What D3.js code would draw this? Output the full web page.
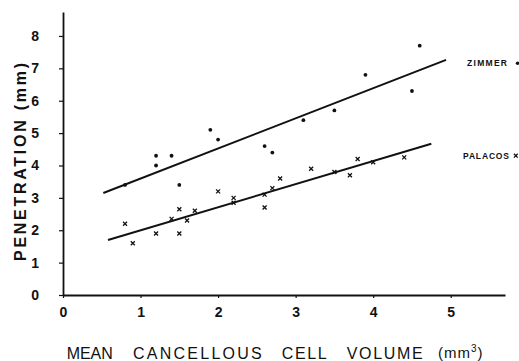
<!DOCTYPE html>
<html>
<head>
<meta charset="utf-8">
<script src="https://cdn.jsdelivr.net/npm/d3@7"></script>
<style>
  body { margin: 0; background: #fff; }
  svg { display: block; font-family: "Liberation Sans", Arial, sans-serif; }
</style>
</head>
<body>
<svg id="chart"></svg>
<script>
const width = 519;
const height = 361;

// Zimmer cement (dots)
const zimmerX = [0.8, 1.2, 1.2, 1.4, 1.5, 1.9, 2.0, 2.6, 2.7, 3.1, 3.5, 3.9, 4.5, 4.6];
const zimmerY = [3.4, 4.3, 4.0, 4.3, 3.4, 5.1, 4.8, 4.6, 4.4, 5.4, 5.7, 6.8, 6.3, 7.7];
// Palacos cement (crosses)
const palacosX = [0.8, 0.9, 1.2, 1.4, 1.5, 1.5, 1.6, 1.7, 2.0, 2.2, 2.2, 2.6, 2.6, 2.7, 2.8, 3.2, 3.5, 3.7, 3.8, 4.0, 4.4];
const palacosY = [2.2, 1.6, 1.9, 2.35, 2.65, 1.9, 2.3, 2.6, 3.2, 3.0, 2.85, 3.1, 2.7, 3.3, 3.6, 3.9, 3.8, 3.7, 4.2, 4.1, 4.25];
// fitted lines (end points)
const zimmerFitX = [0.52, 4.94];
const zimmerFitY = [3.15, 7.26];
const palacosFitX = [0.58, 4.75];
const palacosFitY = [1.70, 4.67];

const xTicks = [0, 1, 2, 3, 4, 5];
const yTicks = [0, 1, 2, 3, 4, 5, 6, 7, 8];
const xTitleWords = ["MEAN", "CANCELLOUS", "CELL", "VOLUME"];

const svg = d3.select("#chart").attr("width", width).attr("height", height);

const x = d3.scaleLinear().domain([0, 5.7]).range([63, 505]);
const y = d3.scaleLinear().domain([0, 8.74]).range([295, 12]);

const xAxis = svg.append("g")
  .attr("transform", "translate(0,295)")
  .call(d3.axisBottom(x).tickValues(xTicks).tickSize(3).tickSizeOuter(0).tickPadding(9).tickFormat(d3.format("d")));
const yAxis = svg.append("g")
  .attr("transform", "translate(63,0)")
  .call(d3.axisLeft(y).tickValues(yTicks).tickSize(4).tickSizeOuter(0).tickPadding(20).tickFormat(d3.format("d")));

[xAxis, yAxis].forEach(g => {
  g.select(".domain").attr("stroke", "#111").attr("stroke-width", 1.8);
  g.selectAll(".tick line").attr("stroke", "#111").attr("stroke-width", 1.2);
  g.selectAll(".tick text")
    .attr("fill", "#111")
    .style("font-family", "'Liberation Sans', Arial, sans-serif")
    .style("font-size", "14px")
    .style("font-weight", "bold");
});

// fitted lines
const line = d3.line().x(d => x(d[0])).y(d => y(d[1]));
[[zimmerFitX, zimmerFitY], [palacosFitX, palacosFitY]].forEach(([fx, fy]) => {
  svg.append("path")
    .attr("d", line(d3.zip(fx, fy)))
    .attr("fill", "none")
    .attr("stroke", "#111")
    .attr("stroke-width", 2);
});

// dots
svg.append("g").selectAll("circle")
  .data(d3.zip(zimmerX, zimmerY))
  .join("circle")
  .attr("cx", d => x(d[0]))
  .attr("cy", d => y(d[1]))
  .attr("r", 1.9)
  .attr("fill", "#111");

// crosses
const cross = (g, cx, cy, s) => {
  g.append("path")
    .attr("d", `M${cx - s},${cy - s}L${cx + s},${cy + s}M${cx - s},${cy + s}L${cx + s},${cy - s}`)
    .attr("stroke", "#111")
    .attr("stroke-width", 1.3)
    .attr("fill", "none");
};
const crosses = svg.append("g");
d3.zip(palacosX, palacosY).forEach(d => cross(crosses, x(d[0]), y(d[1]), 2));

// series labels
svg.append("text").attr("x", 467).attr("y", 66)
  .attr("textLength", 40).attr("lengthAdjust", "spacing")
  .style("font-size", "8.5px").style("font-weight", "bold").attr("fill", "#111")
  .text("ZIMMER");
svg.append("circle").attr("cx", 517.5).attr("cy", 63.3).attr("r", 1.7).attr("fill", "#111");

svg.append("text").attr("x", 463).attr("y", 158.8)
  .attr("textLength", 46).attr("lengthAdjust", "spacing")
  .style("font-size", "8.5px").style("font-weight", "bold").attr("fill", "#111")
  .text("PALACOS");
cross(svg, 515.8, 155.7, 1.9);

// axis titles
const titleX = [66.7, 133, 281.7, 346.7];
const titleW = [46, 128.7, 45, 76];
xTitleWords.forEach((w, i) => {
  svg.append("text")
    .attr("x", titleX[i]).attr("y", 359)
    .attr("textLength", titleW[i]).attr("lengthAdjust", "spacing")
    .style("font-size", "16px").attr("fill", "#111")
    .text(w);
});
const unit = svg.append("text").attr("x", 438).attr("y", 358)
  .style("font-size", "15px").style("letter-spacing", "1px").attr("fill", "#111");
unit.append("tspan").text("(mm");
unit.append("tspan").attr("dy", -6).style("font-size", "10px").text("3");
unit.append("tspan").attr("dy", 6).text(")");

svg.append("text")
  .attr("transform", "translate(26,162) rotate(-90)")
  .attr("text-anchor", "middle")
  .attr("textLength", 198).attr("lengthAdjust", "spacing")
  .style("font-size", "16px").style("font-weight", "bold").attr("fill", "#111")
  .text("PENETRATION  (mm)");
</script>
</body>
</html>
